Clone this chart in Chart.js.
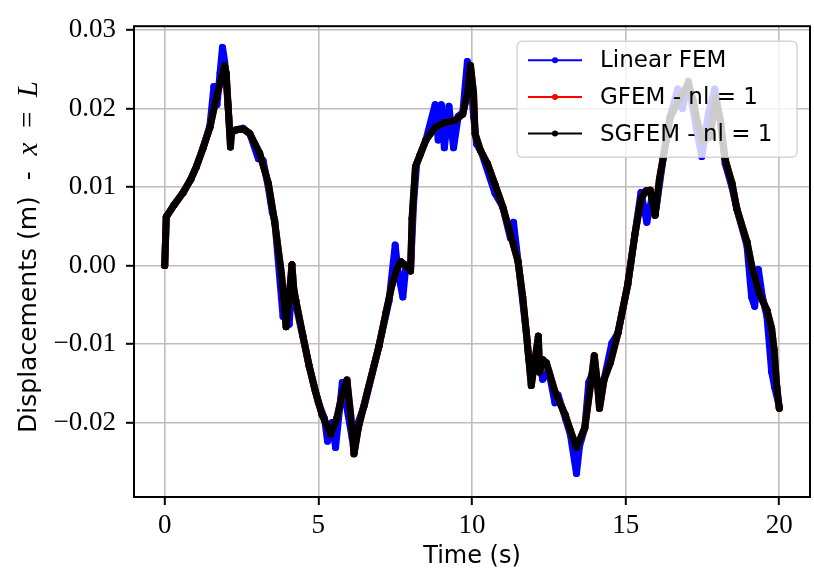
<!DOCTYPE html>
<html>
<head>
<meta charset="utf-8">
<script src="https://cdn.jsdelivr.net/npm/chart.js@4.4.1/dist/chart.umd.min.js"></script>
<style>
  body { margin: 0; background: #fff; }
  canvas { display: block; }
</style>
</head>
<body>
<canvas id="myChart" width="814" height="579"></canvas>
<script>
// tip displacement at x = L, three discretisations
var timeLinear = [0, 0.05, 0.3, 0.6, 0.85, 1.03, 1.25, 1.47, 1.6, 1.7, 1.8, 1.88, 1.95, 2.05, 2.14, 2.2,
    2.55, 2.77, 3.05, 3.2, 3.37, 3.5, 3.58, 3.85, 3.95, 4.05, 4.14, 4.27, 4.7, 5.0,
    5.2, 5.3, 5.45, 5.56, 5.78, 5.9, 6.1, 6.25, 6.5, 6.97, 7.3, 7.5, 7.6, 7.75,
    7.85, 8.0, 8.1, 8.2, 8.5, 8.8, 8.9, 9.0, 9.1, 9.25, 9.4, 9.55, 9.7, 9.85,
    9.95, 10.05, 10.15, 10.3, 10.75, 11.0, 11.25, 11.35, 11.5, 11.77, 11.85, 12.0,
    12.15, 12.3, 12.5, 12.7, 12.8, 13.05, 13.2, 13.4, 13.5, 13.67, 13.8, 14.0,
    14.15, 14.3, 14.55, 14.75, 15.07, 15.3, 15.5, 15.69, 15.85, 16.0, 16.23, 16.45,
    16.7, 16.85, 17.04, 17.3, 17.48, 17.7, 17.9, 18.1, 18.24, 18.46, 18.62, 18.95,
    19.1, 19.2, 19.32, 19.45, 19.6, 19.75, 19.85, 20.0];
var dispLinear = [0, 0.0062, 0.0077, 0.0093, 0.011, 0.0126, 0.015, 0.0178, 0.0228, 0.0205, 0.0245, 0.0278, 0.026, 0.021, 0.016, 0.0172,
    0.0175, 0.0168, 0.0136, 0.0134, 0.0100, 0.0068, 0.0058, -0.0065, -0.0035, -0.0075, -0.002, -0.005, -0.0128, -0.0175,
    -0.0195, -0.0224, -0.0200, -0.0232, -0.0149, -0.0175, -0.022, -0.0205, -0.0178, -0.0103, -0.0045, 0.0026, -0.001, -0.004,
    0.0, -0.0005, 0.008, 0.013, 0.016, 0.0205, 0.016, 0.0205, 0.015, 0.0203, 0.015, 0.019, 0.0195, 0.026,
    0.025, 0.019, 0.0155, 0.0145, 0.0092, 0.0075, 0.0035, 0.0055, 0.0005, -0.0086, -0.012, -0.0135,
    -0.011, -0.0145, -0.0135, -0.0175, -0.0165, -0.0196, -0.0215, -0.0265, -0.023, -0.0207, -0.0149, -0.013,
    -0.0165, -0.0145, -0.0099, -0.0086, -0.0024, 0.004, 0.0093, 0.0055, 0.0085, 0.0075, 0.0139, 0.019,
    0.0225, 0.020, 0.0235, 0.0175, 0.0139, 0.0195, 0.0225, 0.018, 0.013, 0.0100, 0.0072, 0.0025,
    -0.004, -0.0052, -0.0005, -0.004, -0.0065, -0.0135, -0.0155, -0.018];

var timeSgfem = [0, 0.05, 0.3, 0.6, 0.85, 1.03, 1.25, 1.47, 1.68, 1.85, 1.95, 2.0, 2.06, 2.14, 2.17, 2.35,
    2.55, 2.77, 3.09, 3.37, 3.58, 3.8, 3.95, 4.05, 4.14, 4.2, 4.27, 4.5, 4.7, 4.9,
    5.12, 5.4, 5.6, 5.8, 5.93, 6.05, 6.16, 6.3, 6.6, 6.97, 7.2, 7.4, 7.55, 7.68,
    7.85, 8.0, 8.05, 8.16, 8.3, 8.5, 8.8, 9.1, 9.45, 9.7, 9.85, 9.95, 10.05, 10.1,
    10.27, 10.5, 10.75, 11.0, 11.2, 11.5, 11.65, 11.77, 11.93, 12.05, 12.16, 12.2, 12.3, 12.42,
    12.7, 13.03, 13.2, 13.4, 13.67, 13.9, 13.98, 14.08, 14.15, 14.3, 14.5, 14.75, 15.07, 15.3,
    15.5, 15.66, 15.8, 15.96, 16.1, 16.23, 16.45, 16.78, 17.04, 17.2, 17.32, 17.5, 17.75, 17.92,
    18.08, 18.24, 18.46, 18.62, 18.95, 19.1, 19.35, 19.6, 19.75, 19.83, 19.92, 20.0];
var dispSgfem = [0, 0.0062, 0.0077, 0.0093, 0.011, 0.0126, 0.015, 0.0176, 0.0214, 0.0240, 0.0255, 0.0245, 0.0205, 0.0151, 0.017, 0.0173,
    0.0174, 0.0168, 0.0143, 0.0105, 0.0055, -0.0011, -0.0078, -0.004, 0.0001, -0.003, -0.0045, -0.009, -0.0128, -0.016,
    -0.019, -0.0215, -0.0195, -0.016, -0.0146, -0.019, -0.024, -0.0207, -0.016, -0.0103, -0.006, -0.0024, -0.0005, 0.0005,
    0.0, -0.0007, 0.006, 0.0126, 0.014, 0.016, 0.0176, 0.0182, 0.0185, 0.0193, 0.022, 0.0255, 0.022, 0.0168,
    0.0147, 0.013, 0.0103, 0.0075, 0.0047, 0.0005, -0.004, -0.0086, -0.0153, -0.012, -0.009, -0.0136, -0.012, -0.0124,
    -0.0161, -0.019, -0.021, -0.0232, -0.0207, -0.014, -0.0115, -0.015, -0.0182, -0.0145, -0.0124, -0.0086, -0.0024, 0.0039,
    0.0085, 0.0095, 0.0096, 0.0064, 0.011, 0.0139, 0.0189, 0.0214, 0.0232, 0.021, 0.0185, 0.016, 0.0164, 0.0214,
    0.0185, 0.0135, 0.0105, 0.0072, 0.003, 0.0, -0.0036, -0.0057, -0.008, -0.0107, -0.0155, -0.0182];

// GFEM sits exactly under SGFEM
var timeGfem = timeSgfem;
var dispGfem = dispSgfem;

var xTicks = [0, 5, 10, 15, 20];
var yTicks = [-0.02, -0.01, 0.00, 0.01, 0.02, 0.03];

var seriesNames = ["Linear FEM", "GFEM - nl = 1", "SGFEM - nl = 1"];
var seriesColors = ["#0000ff", "#ff0000", "#000000"];

function toPoints(ts, vs) {
    return ts.map(function (t, i) { return { x: t, y: vs[i] }; });
}

function lineSet(i, ts, vs, order) {
    return {
        label: seriesNames[i],
        data: toPoints(ts, vs),
        borderColor: seriesColors[i],
        backgroundColor: seriesColors[i],
        pointBackgroundColor: seriesColors[i],
        pointBorderWidth: 0,
        pointRadius: 3.5,
        borderWidth: 7,
        borderJoinStyle: 'round',
        borderCapStyle: 'round',
        tension: 0,
        order: order
    };
}

var serif = '"Liberation Serif", "DejaVu Serif", serif';
var sans = '"DejaVu Sans", "Open Sans", sans-serif';

// box, legend and axis labels drawn on top of the lines
var decorations = {
    id: 'decorations',
    afterDatasetsDraw: function (chart) {
        var ctx = chart.ctx;
        var a = chart.chartArea;
        ctx.save();

        ctx.strokeStyle = '#000';
        ctx.lineWidth = 2;
        ctx.strokeRect(a.left, a.top, a.right - a.left, a.bottom - a.top);

        // legend
        var lx = a.right - 293, ly = a.top + 15, lw = 280, lh = 116;
        ctx.beginPath();
        ctx.roundRect(lx, ly, lw, lh, 5);
        ctx.fillStyle = 'rgba(255,255,255,0.8)';
        ctx.fill();
        ctx.strokeStyle = 'rgba(204,204,204,0.8)';
        ctx.lineWidth = 1.5;
        ctx.stroke();
        ctx.font = '23px ' + sans;
        ctx.textBaseline = 'middle';
        ctx.textAlign = 'left';
        seriesNames.forEach(function (name, i) {
            var y = ly + 19 + i * 36.7;
            ctx.strokeStyle = seriesColors[i];
            ctx.lineWidth = 2;
            ctx.beginPath();
            ctx.moveTo(lx + 11, y);
            ctx.lineTo(lx + 65, y);
            ctx.stroke();
            ctx.fillStyle = seriesColors[i];
            ctx.beginPath();
            ctx.arc(lx + 38, y, 3, 0, Math.PI * 2);
            ctx.fill();
            ctx.fillStyle = '#000';
            ctx.fillText(name, lx + 83, y + 1);
        });

        // x axis title
        ctx.fillStyle = '#000';
        ctx.font = '24px ' + sans;
        ctx.textAlign = 'center';
        ctx.fillText('Time (s)', (a.left + a.right) / 2, 557);

        // y axis title, with the math part in italic serif
        var parts = [
            ['Displacements (m)  -  ', '25px ' + sans],
            ['x', 'italic 29px ' + serif],
            ['  =  ', '29px ' + serif],
            ['L', 'italic 29px ' + serif]
        ];
        var total = 0;
        parts.forEach(function (p) { ctx.font = p[1]; total += ctx.measureText(p[0]).width; });
        ctx.translate(29, 257);
        ctx.rotate(-Math.PI / 2);
        ctx.textAlign = 'left';
        var px = -total / 2;
        parts.forEach(function (p) {
            ctx.font = p[1];
            ctx.fillText(p[0], px, 0);
            px += ctx.measureText(p[0]).width;
        });
        ctx.restore();
    }
};

var ctx = document.getElementById("myChart").getContext("2d");

var myChart = new Chart(ctx, {
    type: "line",
    data: {
        datasets: [
            lineSet(0, timeLinear, dispLinear, 3),
            lineSet(1, timeGfem, dispGfem, 2),
            lineSet(2, timeSgfem, dispSgfem, 1)
        ]
    },
    options: {
        responsive: false,
        animation: false,
        layout: { padding: { top: 17, right: 4, left: 0, bottom: 0 } },
        plugins: {
            legend: { display: false },
            tooltip: { enabled: false }
        },
        scales: {
            x: {
                type: 'linear',
                min: -1,
                max: 21,
                afterBuildTicks: function (axis) {
                    axis.ticks = xTicks.map(function (v) { return { value: v }; });
                },
                afterFit: function (axis) { axis.height = 82; },
                grid: {
                    color: '#bdbdbd',
                    lineWidth: 1.6,
                    tickColor: '#000',
                    tickWidth: 2,
                    tickLength: 8
                },
                border: { display: false },
                ticks: {
                    color: '#000',
                    font: { family: serif, size: 27 },
                    padding: 5,
                    maxRotation: 0
                }
            },
            y: {
                type: 'linear',
                min: -0.0295,
                max: 0.0305,
                afterBuildTicks: function (axis) {
                    axis.ticks = yTicks.map(function (v) { return { value: v }; });
                },
                afterFit: function (axis) { axis.width = 134; },
                grid: {
                    color: '#bdbdbd',
                    lineWidth: 1.6,
                    tickColor: '#000',
                    tickWidth: 2,
                    tickLength: 8
                },
                border: { display: false },
                ticks: {
                    color: '#000',
                    font: { family: serif, size: 27 },
                    padding: 10,
                    callback: function (v) {
                        return (v < 0 ? '\u2212' : '') + Math.abs(v).toFixed(2);
                    }
                }
            }
        }
    },
    plugins: [decorations]
});
</script>
</body>
</html>
